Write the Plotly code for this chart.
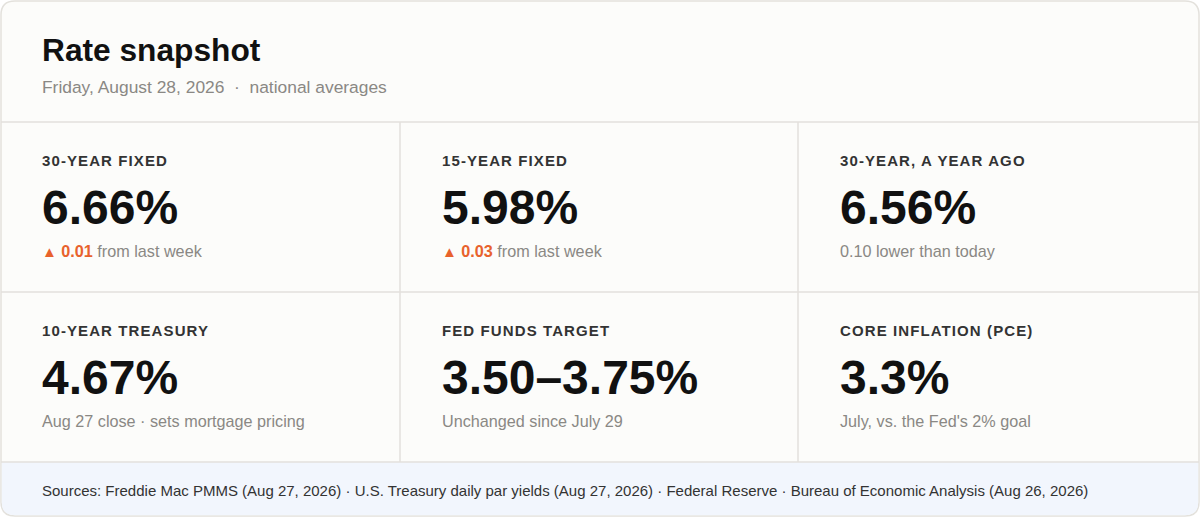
import plotly.graph_objects as go

# card content
title = "Rate snapshot"
subtitle = "Friday, August 28, 2026  \u00b7  national averages"
labels = ["30-YEAR FIXED", "15-YEAR FIXED", "30-YEAR, A YEAR AGO",
          "10-YEAR TREASURY", "FED FUNDS TARGET", "CORE INFLATION (PCE)"]
values = ["6.66%", "5.98%", "6.56%", "4.67%", "3.50\u20133.75%", "3.3%"]
deltas = ["0.01", "0.03", None, None, None, None]
notes = ["from last week", "from last week", "0.10 lower than today",
         "Aug 27 close \u00b7 sets mortgage pricing", "Unchanged since July 29",
         "July, vs. the Fed's 2% goal"]
sources = ("Sources: Freddie Mac PMMS (Aug 27, 2026) \u00b7 U.S. Treasury daily par yields "
           "(Aug 27, 2026) \u00b7 Federal Reserve \u00b7 Bureau of Economic Analysis (Aug 26, 2026)")

W, H = 1200, 517
FONT = "Liberation Sans, Arial, Helvetica, sans-serif"
BORDER = "#e3e1dc"
BG = "#fcfcfa"
FOOT_BG = "#f2f6fd"
ORANGE = "#e8622c"
GREY = "#8a8884"

col_x = [0, 400, 798]
row_y = [122, 292]
foot_y = 462
pad = 42
r = 14
x0, x1, y0, y1 = 1, 1199, 1, 516


def rounded(xa, xb, ya, yb, rad, top=True):
    tr = rad if top else 0
    p = f"M {xa+tr},{ya} L {xb-tr},{ya} "
    if top:
        p += f"Q {xb},{ya} {xb},{ya+rad} "
    p += f"L {xb},{yb-rad} Q {xb},{yb} {xb-rad},{yb} L {xa+rad},{yb} Q {xa},{yb} {xa},{yb-rad} "
    p += f"L {xa},{ya+tr} "
    if top:
        p += f"Q {xa},{ya} {xa+rad},{ya} "
    return p + "Z"


fig = go.Figure()
shapes = []
# card background
shapes.append(dict(type="path", path=rounded(x0, x1, y0, y1, r), fillcolor=BG,
                   line=dict(color=BORDER, width=1.5), layer="below"))
# footer band
shapes.append(dict(type="path", path=rounded(x0 + 0.75, x1 - 0.75, foot_y, y1 - 0.75, r - 1, top=False),
                   fillcolor=FOOT_BG, line=dict(width=0), layer="below"))
# horizontal dividers
for yy in row_y + [foot_y]:
    shapes.append(dict(type="line", x0=x0, x1=x1, y0=yy, y1=yy, line=dict(color=BORDER, width=1.5)))
# vertical dividers
for xx in col_x[1:]:
    shapes.append(dict(type="line", x0=xx, x1=xx, y0=row_y[0], y1=foot_y, line=dict(color=BORDER, width=1.5)))

ann = []


def txt(x, y, s, size, color):
    ann.append(dict(x=x, y=y, xref="x", yref="y", text=s, showarrow=False,
                    xanchor="left", yanchor="middle", align="left",
                    font=dict(family=FONT, size=size, color=color)))


txt(pad - 2, 50, "<b>" + title + "</b>", 31.7, "#111111")
txt(pad - 2, 87, subtitle, 17.4, GREY)

for i, lab in enumerate(labels):
    cx = col_x[i % 3] + pad - 2
    top = row_y[i // 3]
    txt(cx, top + 38, f"<span style='letter-spacing:1.1px'><b>{lab}</b></span>", 15, "#333333")
    txt(cx, top + 85, f"<b>{values[i]}</b>", 48, "#111111")
    if deltas[i] is not None:
        s = (f"<span style='font-size:15px;color:{ORANGE}'>\u25b2</span> "
             f"<span style='color:{ORANGE}'><b>{deltas[i]}</b></span> {notes[i]}")
    else:
        s = notes[i]
    txt(cx, top + 129, s, 16.2, GREY)

txt(pad - 2, 490, sources, 15, "#333333")

fig.update_layout(
    width=W, height=H,
    margin=dict(l=0, r=0, t=0, b=0),
    paper_bgcolor="#ffffff", plot_bgcolor="rgba(0,0,0,0)",
    xaxis=dict(range=[0, W], visible=False, fixedrange=True),
    yaxis=dict(range=[H, 0], visible=False, fixedrange=True),
    shapes=shapes, annotations=ann, showlegend=False,
)

fig.write_html("out.html", config={"displayModeBar": False},
               post_script="document.body.style.margin='0';document.body.style.overflow='hidden';")
